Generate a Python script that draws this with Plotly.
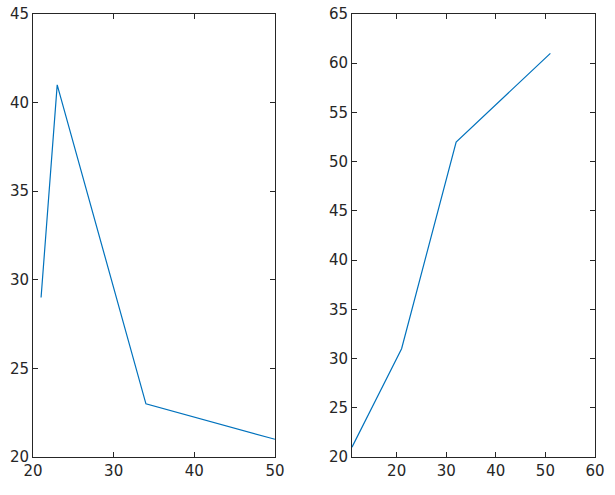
import plotly.graph_objects as go

left_x = [21, 23, 34, 50]
left_y = [29, 41, 23, 21]
right_x = [11, 21, 32, 51]
right_y = [21, 31, 52, 61]

left_xticks = [20, 30, 40, 50]
left_yticks = [20, 25, 30, 35, 40, 45]
right_xticks = [20, 30, 40, 50, 60]
right_yticks = [20, 25, 30, 35, 40, 45, 50, 55, 60, 65]

line_color = "#0072BD"
axis_color = "#262626"
font = dict(family="DejaVu Sans", size=15, color=axis_color)

W, H = 615, 495

fig = go.Figure()
fig.add_trace(go.Scatter(x=left_x, y=left_y, mode="lines",
                         line=dict(color=line_color, width=1.2),
                         xaxis="x", yaxis="y", showlegend=False))
fig.add_trace(go.Scatter(x=right_x, y=right_y, mode="lines",
                         line=dict(color=line_color, width=1.2),
                         xaxis="x2", yaxis="y2", showlegend=False))

def ax(**kw):
    d = dict(showgrid=False, zeroline=False, showline=True, linecolor=axis_color,
             linewidth=1, mirror="ticks", ticks="inside", ticklen=5,
             tickcolor=axis_color, tickfont=font, automargin=False)
    d.update(kw)
    return d

def xd(a, b):
    return [a / W, b / W]

ydom = [1 - 457 / H, 1 - 14 / H]
fig.update_layout(
    width=W, height=H,
    margin=dict(l=0, r=0, t=0, b=0, autoexpand=False),
    paper_bgcolor="white", plot_bgcolor="white",
    font=font,
    xaxis=ax(domain=xd(33, 275), range=[20, 50], tickvals=left_xticks, anchor="y"),
    yaxis=ax(domain=ydom, range=[20, 45], tickvals=left_yticks, anchor="x"),
    xaxis2=ax(domain=xd(352, 595), range=[11, 60], tickvals=right_xticks, anchor="y2"),
    yaxis2=ax(domain=ydom, range=[20, 65], tickvals=right_yticks, anchor="x2"),
)

fig.write_html("out.html", config={"displayModeBar": False},
               post_script="document.body.style.margin='0px';")
